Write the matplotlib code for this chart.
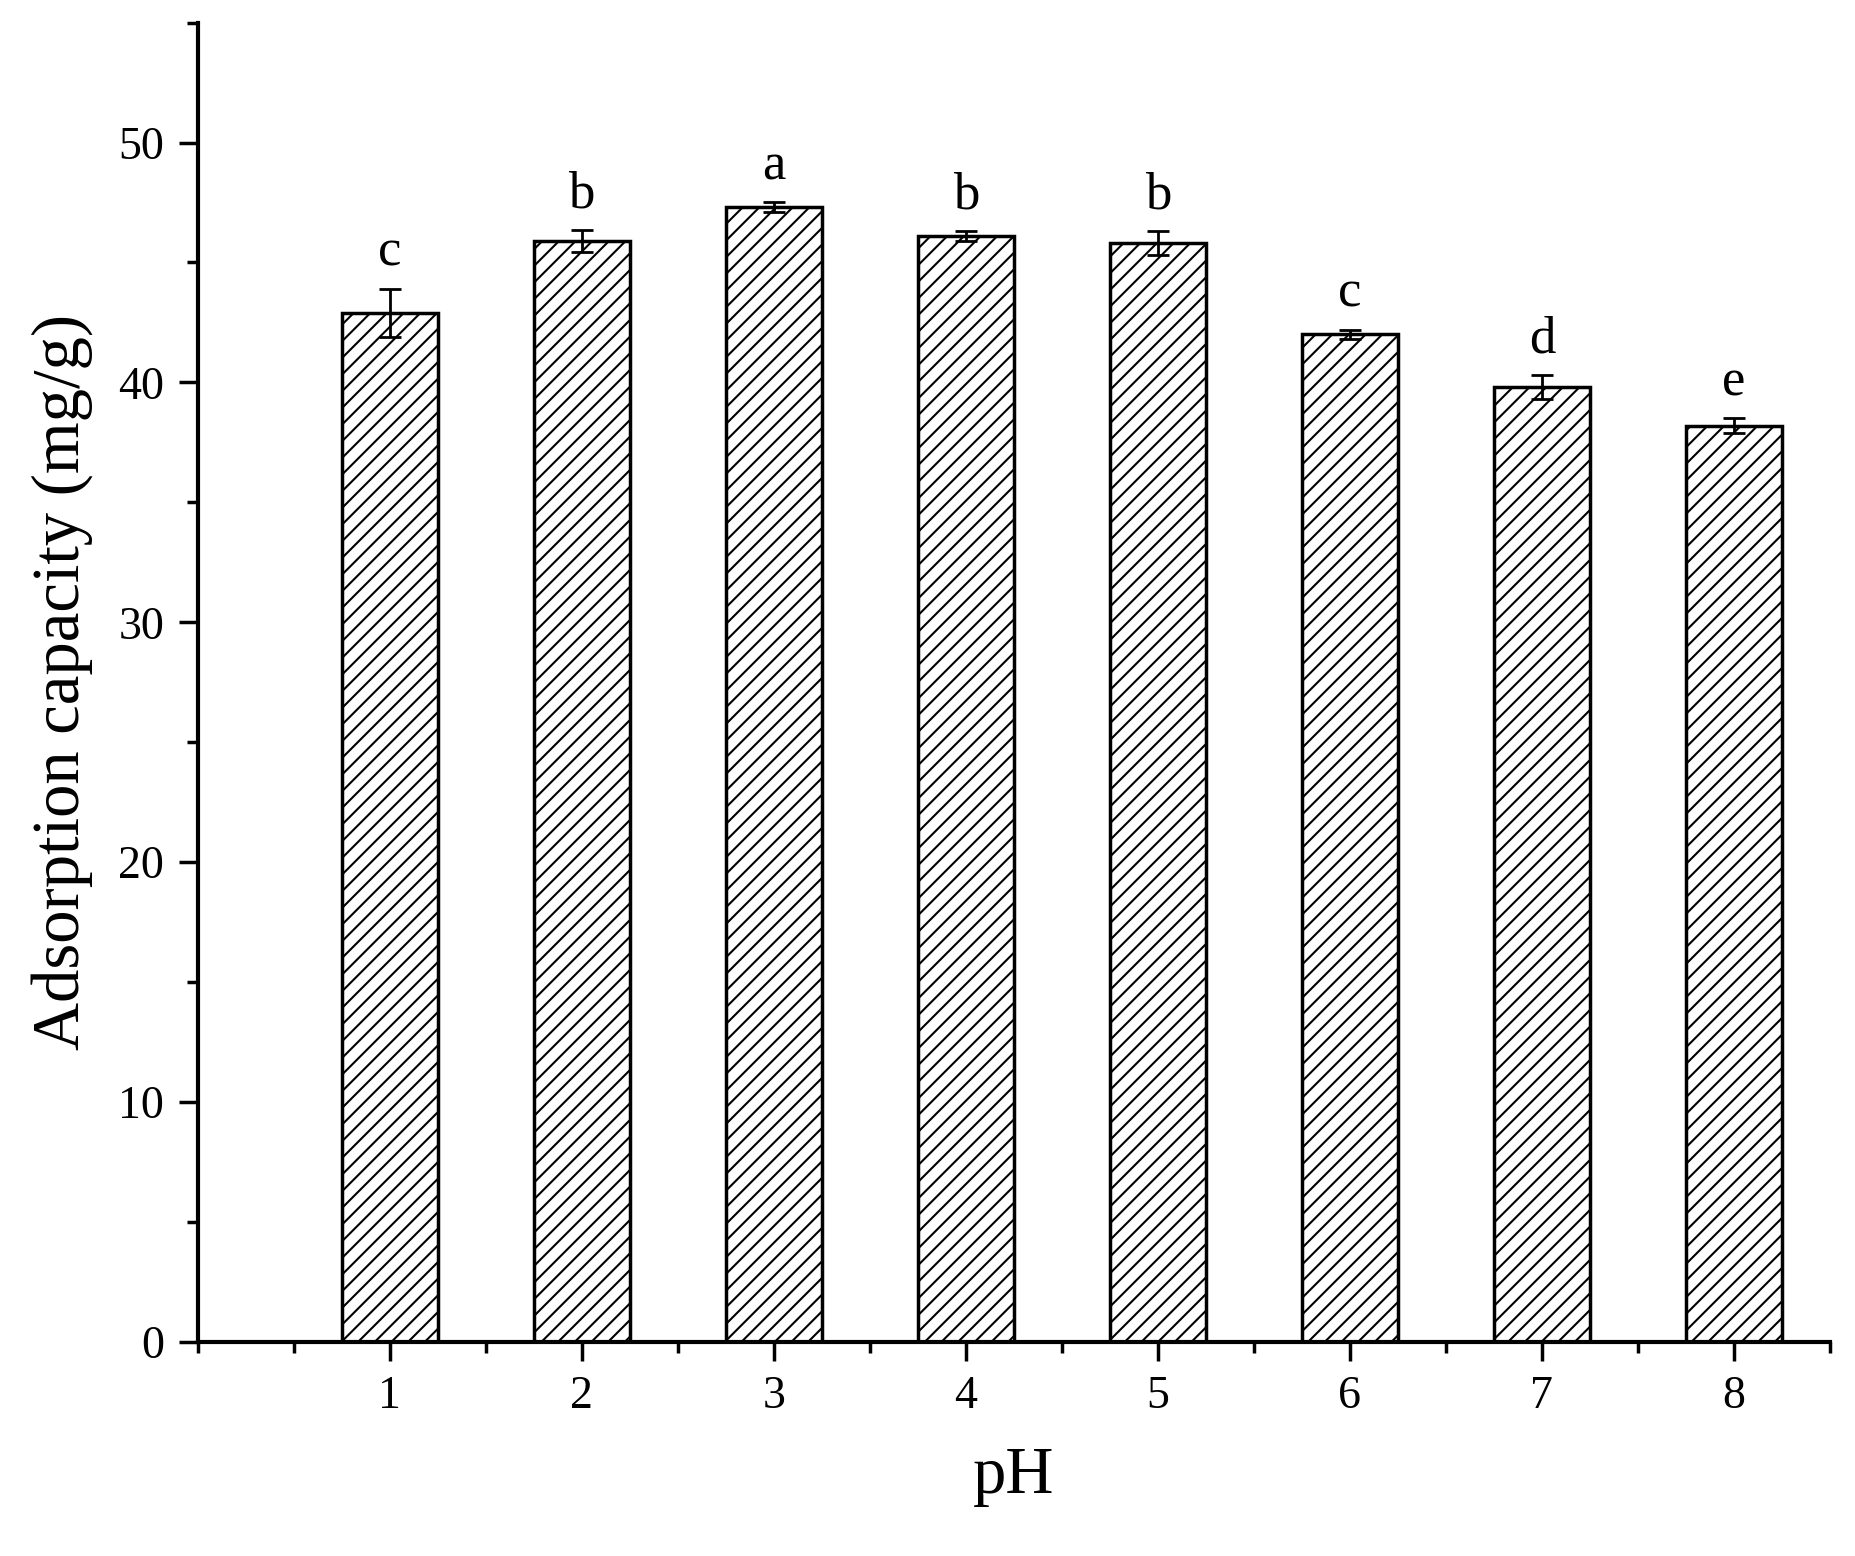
import matplotlib
matplotlib.use("Agg")
import matplotlib.pyplot as plt
from matplotlib.ticker import MultipleLocator

ph = [1, 2, 3, 4, 5, 6, 7, 8]
capacity = [42.9, 45.9, 47.3, 46.1, 45.8, 42.0, 39.8, 38.2]
errors = [1.0, 0.45, 0.2, 0.2, 0.5, 0.2, 0.5, 0.3]
letters = ["c", "b", "a", "b", "b", "c", "d", "e"]

plt.rcParams['font.family'] = ['Liberation Serif', 'DejaVu Serif']
plt.rcParams['hatch.linewidth'] = 1.5
fig = plt.figure(figsize=(18.55, 15.56), dpi=100)
ax = fig.add_axes([0.1065, 0.1375, 0.88, 0.848])
ax.bar(ph, capacity, width=0.5, color='white', edgecolor='black', hatch='//', linewidth=2.5)
ax.errorbar(ph, capacity, yerr=errors, fmt='none', ecolor='black', elinewidth=2, capsize=8, capthick=2)
for x, y, e, t in zip(ph, capacity, errors, letters):
    ax.text(x, y + e + 0.5, t, ha='center', va='bottom', fontsize=38)
ax.set_xlim(0, 8.5)
ax.set_ylim(0, 55)
ax.spines['top'].set_visible(False)
ax.spines['right'].set_visible(False)
for s in ('left', 'bottom'):
    ax.spines[s].set_linewidth(3)
ax.xaxis.set_major_locator(MultipleLocator(1))
ax.xaxis.set_minor_locator(MultipleLocator(0.5))
ax.yaxis.set_major_locator(MultipleLocator(10))
ax.yaxis.set_minor_locator(MultipleLocator(5))
ax.set_xticks(ph)
ax.tick_params(which='major', length=14, width=2.5, labelsize=33, direction='out', pad=10)
ax.tick_params(which='minor', length=8, width=2.5, direction='out')
ax.set_xlabel('pH', fontsize=48, labelpad=20)
ax.set_ylabel('Adsorption capacity (mg/g)', fontsize=48, labelpad=18)
fig.savefig('out.png', dpi=100)
